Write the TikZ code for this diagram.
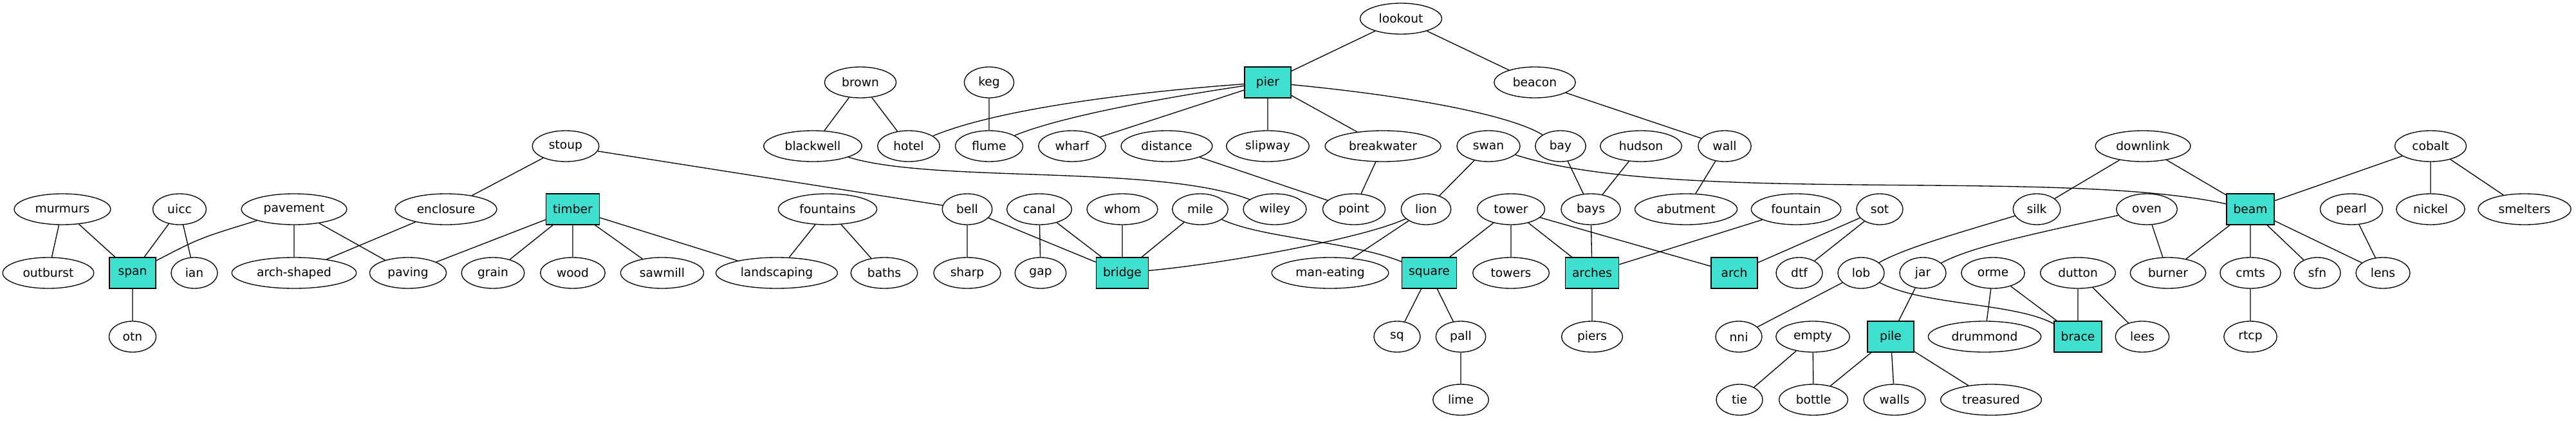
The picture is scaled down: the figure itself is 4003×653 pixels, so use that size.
\documentclass[tikz,border=0pt]{standalone}
\usepackage{fontspec}
\setmainfont{DejaVu Sans}
\usepackage{xcolor}
\usetikzlibrary{shapes.geometric}
\definecolor{turq}{RGB}{64,224,208}

\begin{document}
\begin{tikzpicture}[
    x=0.75pt, y=-0.75pt, line width=1pt,
    v/.style={ellipse, draw, inner xsep=7.92pt, inner ysep=3.96pt,
      minimum width=54pt, minimum height=36pt, font=\fontsize{14}{16}\selectfont},
    hub/.style={rectangle, draw, fill=turq, inner xsep=7.92pt, inner ysep=3.96pt,
      minimum width=54pt, minimum height=36pt, font=\fontsize{14}{16}\selectfont}
  ]
    \useasboundingbox (0,0) rectangle (4003,653);

    % top ranks
    \node[v] (lookout) at (2177,29) {lookout};
    \node[v] (brown) at (1337,128) {brown};
    \node[v] (keg) at (1537,128) {keg};
    \node[hub] (pier) at (1970,128) {pier};
    \node[v] (beacon) at (2385,128) {beacon};

    \node[v] (stoup) at (879,227) {stoup};
    \node[v] (blackwell) at (1263,227) {blackwell};
    \node[v] (hotel) at (1412,227) {hotel};
    \node[v] (flume) at (1537,227) {flume};
    \node[v] (wharf) at (1666,227) {wharf};
    \node[v] (distance) at (1813,227) {distance};
    \node[v] (slipway) at (1970,227) {slipway};
    \node[v] (breakwater) at (2149,227) {breakwater};
    \node[v] (swan) at (2313,227) {swan};
    \node[v] (bay) at (2425,227) {bay};
    \node[v] (hudson) at (2550,227) {hudson};
    \node[v] (wall) at (2680,227) {wall};
    \node[v] (downlink) at (3330,227) {downlink};
    \node[v] (cobalt) at (3777,227) {cobalt};

    \node[v] (murmurs) at (97,325) {murmurs};
    \node[v] (uicc) at (279,325) {uicc};
    \node[v] (pavement) at (457,325) {pavement};
    \node[v] (enclosure) at (693,325) {enclosure};
    \node[hub] (timber) at (890,325) {timber};
    \node[v] (fountains) at (1286,325) {fountains};
    \node[v] (bell) at (1503,325) {bell};
    \node[v] (canal) at (1615,325) {canal};
    \node[v] (whom) at (1744,325) {whom};
    \node[v] (mile) at (1865,325) {mile};
    \node[v] (wiley) at (1981,325) {wiley};
    \node[v] (point) at (2104,325) {point};
    \node[v] (lion) at (2216,325) {lion};
    \node[v] (tower) at (2348,325) {tower};
    \node[v] (bays) at (2472,325) {bays};
    \node[v] (abutment) at (2620,325) {abutment};
    \node[v] (fountain) at (2791,325) {fountain};
    \node[v] (sot) at (2921,325) {sot};
    \node[v] (silk) at (3165,325) {silk};
    \node[v] (oven) at (3336,325) {oven};
    \node[hub] (beam) at (3497,325) {beam};
    \node[v] (pearl) at (3654,325) {pearl};
    \node[v] (nickel) at (3777,325) {nickel};
    \node[v] (smelters) at (3923,325) {smelters};

    \node[v] (outburst) at (75,424) {outburst};
    \node[hub] (span) at (206,424) {span};
    \node[v] (ian) at (302,424) {ian};
    \node[v] (archshaped) at (457,424) {arch-shaped};
    \node[v] (paving) at (634,424) {paving};
    \node[v] (grain) at (766,424) {grain};
    \node[v] (wood) at (890,424) {wood};
    \node[v] (sawmill) at (1029,424) {sawmill};
    \node[v] (landscaping) at (1207,424) {landscaping};
    \node[v] (baths) at (1374,424) {baths};
    \node[v] (sharp) at (1503,424) {sharp};
    \node[v] (gap) at (1617,424) {gap};
    \node[hub] (bridge) at (1744,424) {bridge};
    \node[v] (maneating) at (2067,424) {man-eating};
    \node[hub] (square) at (2221,424) {square};
    \node[v] (towers) at (2348,424) {towers};
    \node[hub] (arches) at (2474,424) {arches};
    \node[hub] (arch) at (2695,424) {arch};
    \node[v] (dtf) at (2796,424) {dtf};
    \node[v] (lob) at (2892,424) {lob};
    \node[v] (jar) at (2988,424) {jar};
    \node[v] (orme) at (3097,424) {orme};
    \node[v] (dutton) at (3229,424) {dutton};
    \node[v] (burner) at (3369,424) {burner};
    \node[v] (cmts) at (3497,424) {cmts};
    \node[v] (sfn) at (3601,424) {sfn};
    \node[v] (lens) at (3703,424) {lens};

    % lower ranks
    \node[v] (otn) at (206,523) {otn};
    \node[v] (sq) at (2171,523) {sq};
    \node[v] (pall) at (2270,523) {pall};
    \node[v] (piers) at (2474,523) {piers};
    \node[v] (nni) at (2702,523) {nni};
    \node[v] (empty) at (2817,523) {empty};
    \node[hub] (pile) at (2938,523) {pile};
    \node[v] (drummond) at (3084,523) {drummond};
    \node[hub] (brace) at (3229,523) {brace};
    \node[v] (lees) at (3329,523) {lees};
    \node[v] (rtcp) at (3497,523) {rtcp};

    \node[v] (lime) at (2270,621) {lime};
    \node[v] (tie) at (2703,621) {tie};
    \node[v] (bottle) at (2818,621) {bottle};
    \node[v] (walls) at (2944,621) {walls};
    \node[v] (treasured) at (3094,621) {treasured};

    \draw (murmurs)--(outburst) (murmurs)--(span) (uicc)--(span) (uicc)--(ian)
      (pavement)--(archshaped) (pavement)--(paving) (enclosure)--(archshaped)
      (stoup)--(enclosure) (stoup)--(bell) (span)--(otn);
    \draw (timber)--(paving) (timber)--(grain) (timber)--(wood) (timber)--(sawmill)
      (timber)--(landscaping) (fountains)--(landscaping) (fountains)--(baths);
    \draw (brown)--(blackwell) (brown)--(hotel) (keg)--(flume) (pier)--(wharf)
      (pier)--(slipway) (pier)--(breakwater) (lookout)--(pier) (lookout)--(beacon)
      (beacon)--(wall) (distance)--(point) (breakwater)--(point);
    \draw (bell)--(sharp) (bell)--(bridge) (canal)--(gap) (canal)--(bridge)
      (whom)--(bridge) (mile)--(bridge);
    \draw (swan)--(lion) (lion)--(maneating) (bay)--(bays) (hudson)--(bays)
      (wall)--(abutment) (tower)--(square) (tower)--(towers) (tower)--(arches)
      (tower)--(arch) (bays)--(arches) (fountain)--(arches) (arches)--(piers)
      (sot)--(arch) (sot)--(dtf) (square)--(sq) (square)--(pall) (pall)--(lime);
    \draw (downlink)--(silk) (downlink)--(beam) (cobalt)--(beam) (cobalt)--(nickel)
      (cobalt)--(smelters) (oven)--(burner) (beam)--(burner) (beam)--(cmts)
      (beam)--(sfn) (beam)--(lens) (pearl)--(lens) (cmts)--(rtcp);
    \draw (lob)--(nni) (jar)--(pile) (orme)--(drummond) (orme)--(brace)
      (dutton)--(brace) (dutton)--(lees) (empty)--(tie) (empty)--(bottle)
      (pile)--(bottle) (pile)--(walls) (pile)--(treasured);

    % curved edges
    \draw (pavement) .. controls (310,370) .. (span);
    \draw (pier) .. controls (1800,140) and (1560,165) .. (hotel);
    \draw (pier) .. controls (1820,150) and (1650,180) .. (flume);
    \draw (pier) .. controls (2200,150) and (2350,180) .. (bay);
    \draw (blackwell) .. controls (1450,285) and (1800,255) .. (wiley);
    \draw (mile) .. controls (1960,370) and (2100,375) .. (square);
    \draw (bridge) .. controls (1900,410) and (2120,370) .. (lion);
    \draw (swan) .. controls (2600,320) and (3200,260) .. (beam);
    \draw (silk) .. controls (3050,360) and (2960,385) .. (lob);
    \draw (oven) .. controls (3150,365) and (3060,385) .. (jar);
    \draw (lob) .. controls (2990,475) and (3130,470) .. (brace);
  \end{tikzpicture}
\end{document}
